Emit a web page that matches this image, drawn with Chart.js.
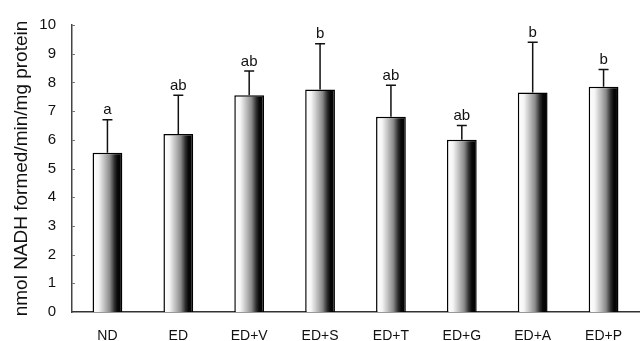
<!DOCTYPE html>
<html>
<head>
<meta charset="utf-8">
<script src="https://cdn.jsdelivr.net/npm/chart.js@4.4.1/dist/chart.umd.min.js"></script>
<style>
  html, body { margin: 0; padding: 0; background: #fff; }
  #wrap { width: 640px; height: 341px; position: relative; }
</style>
</head>
<body>
<div id="wrap"><canvas id="c" width="640" height="341"></canvas></div>
<script>
// Groups along the x axis
const groups = ['ND', 'ED', 'ED+V', 'ED+S', 'ED+T', 'ED+G', 'ED+A', 'ED+P'];
// Mean activity (nmol NADH formed/min/mg protein)
const means = [5.55, 6.2, 7.55, 7.75, 6.8, 6.0, 7.65, 7.85];
// Standard deviation, drawn upward only
const sds = [1.15, 1.35, 0.85, 1.6, 1.1, 0.5, 1.75, 0.6];
// Significance letters above each bar
const letters = ['a', 'ab', 'ab', 'b', 'ab', 'ab', 'b', 'b'];
// Y tick values
const yTicks = [0, 1, 2, 3, 4, 5, 6, 7, 8, 9, 10];

const BAR_FRACTION = 0.42;
const FONT = "'Liberation Sans', Arial, Helvetica, sans-serif";

// Horizontal shading: white at the left edge, dark at the right edge
function barFill(ctx) {
  const chart = ctx.chart;
  const xs = chart.scales.x;
  if (!xs || !chart.chartArea) return '#888';
  const cx = xs.getPixelForValue(ctx.dataIndex);
  const w = (xs.width / groups.length) * BAR_FRACTION;
  const g = chart.ctx.createLinearGradient(cx - w / 2, 0, cx + w / 2, 0);
  g.addColorStop(0.0, '#ffffff');
  g.addColorStop(0.2, '#f6f6f6');
  g.addColorStop(0.38, '#c4c4c4');
  g.addColorStop(0.58, '#8a8a8a');
  g.addColorStop(0.74, '#2e2e2e');
  g.addColorStop(0.84, '#080808');
  g.addColorStop(1.0, '#000000');
  return g;
}

// Upward error bars with caps, letters above, and inward axis ticks
const errorBarPlugin = {
  id: 'errorBars',
  afterDatasetsDraw(chart) {
    const { ctx, scales: { x, y } } = chart;
    ctx.save();
    ctx.strokeStyle = '#111';
    ctx.lineWidth = 1.5;
    ctx.fillStyle = '#111';
    ctx.font = '15px ' + FONT;
    ctx.textAlign = 'center';
    ctx.textBaseline = 'bottom';
    means.forEach((m, i) => {
      const cx = x.getPixelForValue(i);
      const yTop = y.getPixelForValue(m);
      const yCap = y.getPixelForValue(m + sds[i]);
      ctx.beginPath();
      ctx.moveTo(cx, yTop);
      ctx.lineTo(cx, yCap);
      ctx.moveTo(cx - 5, yCap);
      ctx.lineTo(cx + 5, yCap);
      ctx.stroke();
      ctx.fillText(letters[i], cx, yCap - 2);
    });
    // small inward ticks on the y axis
    ctx.strokeStyle = '#777';
    ctx.lineWidth = 1;
    yTicks.forEach(v => {
      if (v === 0) return;
      const py = Math.round(y.getPixelForValue(v)) + 0.5;
      ctx.beginPath();
      ctx.moveTo(x.left, py);
      ctx.lineTo(x.left + 3, py);
      ctx.stroke();
    });
    ctx.restore();
  }
};

new Chart(document.getElementById('c'), {
  type: 'bar',
  data: {
    labels: groups,
    datasets: [{
      data: means,
      backgroundColor: barFill,
      borderColor: '#000',
      borderWidth: 1.5,
      borderSkipped: 'bottom',
      categoryPercentage: 1.0,
      barPercentage: BAR_FRACTION
    }]
  },
  options: {
    responsive: false,
    animation: false,
    devicePixelRatio: 1,
    layout: { padding: { top: 19, right: 1, bottom: 0, left: 0 } },
    plugins: {
      legend: { display: false },
      tooltip: { enabled: false }
    },
    scales: {
      x: {
        grid: { display: false },
        border: { display: true, color: '#333', width: 1.5 },
        ticks: {
          color: '#111',
          font: { family: FONT, size: 14 },
          padding: 8,
          maxRotation: 0
        },
        afterFit(scale) { scale.height = 29; }
      },
      y: {
        min: 0,
        max: 10,
        afterBuildTicks(scale) { scale.ticks = yTicks.map(v => ({ value: v })); },
        grid: { display: false, drawTicks: false },
        border: { display: true, color: '#444', width: 1.5 },
        ticks: {
          color: '#111',
          font: { family: FONT, size: 15 },
          padding: 16
        },
        title: {
          display: true,
          text: 'nmol NADH formed/min/mg protein',
          color: '#111',
          font: { family: FONT, size: 19 },
          padding: { top: 10, bottom: 0 }
        },
        afterFit(scale) { scale.width = 72; }
      }
    }
  },
  plugins: [errorBarPlugin]
});
</script>
</body>
</html>
